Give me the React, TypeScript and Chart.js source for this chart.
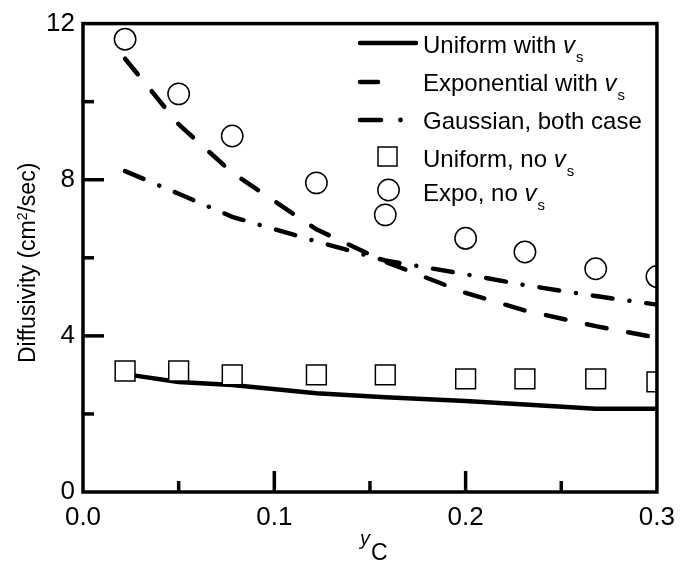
import React, { useEffect, useRef } from 'react';
import { Chart, registerables } from 'chart.js';

Chart.register(...registerables);

// ---- data ----
const xPositions = [0.022, 0.05, 0.078, 0.122, 0.158, 0.2, 0.231, 0.268, 0.3];
const uniformWithVs = [3.02, 2.82, 2.74, 2.53, 2.43, 2.33, 2.24, 2.13, 2.13];
const exponentialWithVs = [11.1, 9.42, 8.18, 6.73, 5.9, 5.1, 4.65, 4.25, 3.95];
const gaussianBoth = [8.22, 7.64, 7.05, 6.42, 5.93, 5.58, 5.3, 5.02, 4.8];
const uniformNoVs = [3.1, 3.1, 3.0, 3.0, 3.0, 2.9, 2.9, 2.9, 2.82];
const expoNoVs = [11.6, 10.2, 9.12, 7.92, 7.1, 6.5, 6.15, 5.72, 5.52];

const xTickLabels = ['0.0', '0.1', '0.2', '0.3'];
const yTickLabels = ['0', '4', '8', '12'];
const xMajorTicks = [0.1, 0.2];
const xMinorTicks = [0.05, 0.15, 0.25];
const yMajorTicks = [4, 8];
const yMinorTicks = [2, 6, 10];

const FONT = '"Liberation Sans", Arial, Helvetica, sans-serif';

const pts = (ys: number[]) => xPositions.map((x, i) => ({ x, y: ys[i] }));

const decorPlugin = {
  id: 'decor',
  afterDraw(chart: any) {
    const ctx = chart.ctx as CanvasRenderingContext2D;
    const { left, right, top, bottom } = chart.chartArea;
    const xs = chart.scales.x;
    const ys = chart.scales.y;
    ctx.save();
    ctx.strokeStyle = '#000';
    ctx.fillStyle = '#000';
    ctx.lineCap = 'butt';
    // frame
    ctx.lineWidth = 3.5;
    ctx.strokeRect(left, top, right - left, bottom - top);
    // inward ticks
    const drawX = (v: number, len: number) => {
      const px = xs.getPixelForValue(v);
      ctx.beginPath();
      ctx.moveTo(px, bottom);
      ctx.lineTo(px, bottom - len);
      ctx.stroke();
    };
    const drawY = (v: number, len: number) => {
      const py = ys.getPixelForValue(v);
      ctx.beginPath();
      ctx.moveTo(left, py);
      ctx.lineTo(left + len, py);
      ctx.stroke();
    };
    xMajorTicks.forEach((v) => drawX(v, 21));
    xMinorTicks.forEach((v) => drawX(v, 11));
    yMajorTicks.forEach((v) => drawY(v, 21));
    yMinorTicks.forEach((v) => drawY(v, 11));

    // y title (rotated) with superscript
    ctx.save();
    ctx.translate(35, 363);
    ctx.rotate(-Math.PI / 2);
    ctx.textBaseline = 'alphabetic';
    ctx.textAlign = 'left';
    ctx.font = `23px ${FONT}`;
    const t1 = 'Diffusivity (cm';
    ctx.fillText(t1, 0, 0);
    let w = ctx.measureText(t1).width;
    ctx.font = `14px ${FONT}`;
    ctx.fillText('2', w, -8);
    w += ctx.measureText('2').width;
    ctx.font = `23px ${FONT}`;
    ctx.fillText('/sec)', w, 0);
    ctx.restore();

    // x title: italic y with subscript C
    ctx.textAlign = 'left';
    ctx.textBaseline = 'alphabetic';
    ctx.font = `italic 20px ${FONT}`;
    ctx.fillText('y', 360, 545);
    ctx.font = `23px ${FONT}`;
    ctx.fillText('C', 371, 560);

    // legend
    const textX = 423;
    const drawLabel = (main: string, baseline: number, withVs: boolean) => {
      ctx.font = `24px ${FONT}`;
      ctx.fillText(main, textX, baseline);
      if (withVs) {
        const mw = ctx.measureText(main).width;
        ctx.font = `italic 24px ${FONT}`;
        ctx.fillText('v', textX + mw, baseline);
        const vw = ctx.measureText('v').width;
        ctx.font = `15px ${FONT}`;
        ctx.fillText('s', textX + mw + vw + 1, baseline + 8.5);
      }
    };
    ctx.lineWidth = 4.5;
    ctx.lineCap = 'round';
    // row 1: solid
    ctx.beginPath();
    ctx.moveTo(360, 43);
    ctx.lineTo(416, 43);
    ctx.stroke();
    drawLabel('Uniform with ', 53, true);
    // row 2: dash
    ctx.beginPath();
    ctx.moveTo(360, 82);
    ctx.lineTo(378, 82);
    ctx.stroke();
    drawLabel('Exponential with ', 91, true);
    // row 3: dash-dot
    ctx.beginPath();
    ctx.moveTo(360, 120);
    ctx.lineTo(381, 120);
    ctx.stroke();
    ctx.beginPath();
    ctx.arc(400.5, 120, 2.4, 0, Math.PI * 2);
    ctx.fill();
    drawLabel('Gaussian, both case', 129, false);
    // row 4: square
    ctx.lineWidth = 1.5;
    ctx.fillStyle = '#fff';
    ctx.fillRect(378, 147, 19, 19);
    ctx.strokeRect(378, 147, 19, 19);
    ctx.fillStyle = '#000';
    drawLabel('Uniform, no ', 167, true);
    // row 5: circle
    ctx.beginPath();
    ctx.arc(388.5, 190, 10.7, 0, Math.PI * 2);
    ctx.fillStyle = '#fff';
    ctx.fill();
    ctx.stroke();
    ctx.fillStyle = '#000';
    drawLabel('Expo, no ', 201, true);
    ctx.restore();
  },
};

export default function App() {
  const ref = useRef<HTMLCanvasElement>(null);
  useEffect(() => {
    if (!ref.current) return;
    const tickFont = { family: FONT, size: 26 };
    const chart = new Chart(ref.current, {
      type: 'line',
      data: {
        datasets: [
          {
            label: 'Uniform, no vs',
            data: pts(uniformNoVs),
            showLine: false,
            pointStyle: 'rect',
            pointRadius: 14,
            pointBackgroundColor: '#fff',
            pointBorderColor: '#000',
            pointBorderWidth: 1.5,
            borderColor: '#000',
            backgroundColor: '#fff',
            order: 0,
            clip: 0,
          },
          {
            label: 'Expo, no vs',
            data: pts(expoNoVs),
            showLine: false,
            pointStyle: 'circle',
            pointRadius: 10.7,
            pointBackgroundColor: '#fff',
            pointBorderColor: '#000',
            pointBorderWidth: 1.5,
            borderColor: '#000',
            backgroundColor: '#fff',
            order: 0,
            clip: 0,
          },
          {
            label: 'Uniform with vs',
            data: pts(uniformWithVs),
            borderColor: '#000',
            borderWidth: 4.5,
            pointRadius: 0,
            fill: false,
            tension: 0,
            borderCapStyle: 'butt',
            borderJoinStyle: 'round',
            order: 1,
            clip: 0,
          },
          {
            label: 'Exponential with vs',
            data: pts(exponentialWithVs),
            borderColor: '#000',
            borderWidth: 4.5,
            borderDash: [20, 22],
            borderCapStyle: 'round',
            pointRadius: 0,
            fill: false,
            tension: 0,
            order: 1,
            clip: 0,
          },
          {
            label: 'Gaussian, both case',
            data: pts(gaussianBoth),
            borderColor: '#000',
            borderWidth: 4.5,
            borderDash: [20, 17, 0.01, 17],
            borderCapStyle: 'round',
            pointRadius: 0,
            fill: false,
            tension: 0,
            order: 1,
            clip: 0,
          },
        ],
      } as any,
      options: {
        animation: false,
        responsive: false,
        maintainAspectRatio: false,
        layout: { padding: { left: 0, right: 22, top: 18, bottom: 0 } },
        plugins: { legend: { display: false }, tooltip: { enabled: false } },
        scales: {
          x: {
            type: 'linear',
            min: 0,
            max: 0.3,
            grid: { display: false, drawTicks: false },
            border: { display: false },
            ticks: {
              stepSize: 0.1,
              padding: 10,
              color: '#000',
              font: tickFont,
              maxRotation: 0,
              autoSkip: false,
              callback: (_v: any, i: number) => xTickLabels[i] ?? '',
            },
            afterFit: (s: any) => {
              s.height = 71;
            },
          },
          y: {
            type: 'linear',
            min: 0,
            max: 12,
            grid: { display: false, drawTicks: false },
            border: { display: false },
            ticks: {
              stepSize: 4,
              padding: 8,
              color: '#000',
              font: tickFont,
              autoSkip: false,
              callback: (_v: any, i: number) => yTickLabels[i] ?? '',
            },
            afterFit: (s: any) => {
              s.width = 83;
            },
          },
        },
      } as any,
      plugins: [decorPlugin],
    });
    return () => chart.destroy();
  }, []);
  return (
    <div style={{ position: 'absolute', left: 0, top: 0, width: 685, height: 563, background: '#fff' }}>
      <canvas ref={ref} width={685} height={563} style={{ display: 'block' }} />
    </div>
  );
}
